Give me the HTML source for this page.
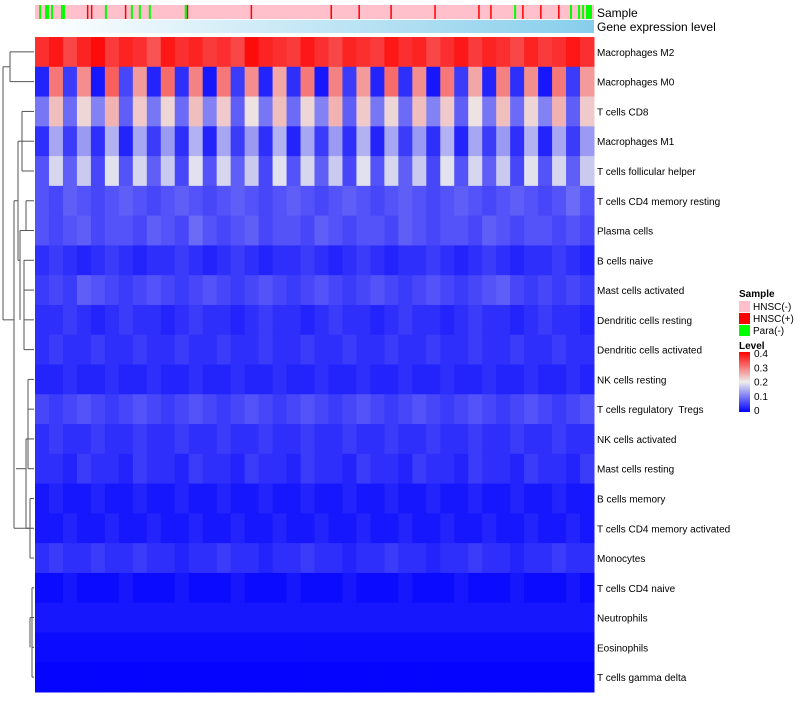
<!DOCTYPE html>
<html><head><meta charset="utf-8"><style>
body{margin:0;background:#fff;font-family:"Liberation Sans",sans-serif;}
svg text{font-family:"Liberation Sans",sans-serif;white-space:pre;}
</style></head><body>
<svg id="c" width="800" height="700" xmlns="http://www.w3.org/2000/svg">
<defs>
<linearGradient id="gexp" x1="0" x2="1"><stop offset="0" stop-color="#ffffff"/><stop offset="1" stop-color="#87ceeb"/></linearGradient>
<linearGradient id="lvl" x1="0" x2="0" y1="1" y2="0"><stop offset="0" stop-color="#0000ff"/><stop offset="0.5" stop-color="#eeeeee"/><stop offset="1" stop-color="#ff0000"/></linearGradient>
</defs>
<g id="dend"></g>
<g id="ann"></g>
<g id="hm"></g>
<g id="labels"></g>
<text x="597" y="17" font-size="12">Sample</text>
<text x="597" y="31" font-size="12">Gene expression level</text>
<g>
<text x="739" y="297" font-size="10" font-weight="bold">Sample</text>
<rect x="739" y="301" width="11" height="11" fill="#ffc0cb"/>
<text x="753" y="310" font-size="10">HNSC(-)</text>
<rect x="739" y="313" width="11" height="11" fill="#ff0000"/>
<text x="753" y="322" font-size="10">HNSC(+)</text>
<rect x="739" y="325" width="11" height="11" fill="#00ff00"/>
<text x="753" y="334" font-size="10">Para(-)</text>
<text x="739" y="349" font-size="10" font-weight="bold">Level</text>
<rect x="739" y="352" width="11" height="60" fill="url(#lvl)"/>
<g id="lvlticks"></g>
</g>
</svg>
<script>
const rowNames=["Macrophages M2","Macrophages M0","T cells CD8","Macrophages M1","T cells follicular helper","T cells CD4 memory resting","Plasma cells","B cells naive","Mast cells activated","Dendritic cells resting","Dendritic cells activated","NK cells resting","T cells regulatory  Tregs","NK cells activated","Mast cells resting","B cells memory","T cells CD4 memory activated","Monocytes","T cells CD4 naive","Neutrophils","Eosinophils","T cells gamma delta"];
const r0=[.36,.38,.34,.37,.39,.35,.37,.36,.33,.38,.36,.37,.35,.36,.34,.39,.37,.36,.35,.38,.36,.34,.37,.36,.35,.38,.36,.37,.34,.36,.38,.35,.37,.36,.34,.37,.35,.36,.38,.36];
const r1=[.03,.30,.05,.28,.02,.32,.06,.27,.03,.31,.04,.29,.02,.30,.05,.28,.03,.26,.04,.30,.02,.29,.05,.27,.03,.31,.04,.28,.02,.30,.05,.26,.03,.29,.04,.28,.02,.30,.05,.27];
const r2=[.10,.24,.09,.22,.11,.25,.08,.23,.10,.22,.09,.24,.11,.23,.08,.21,.10,.24,.09,.22,.11,.25,.08,.23,.10,.22,.09,.24,.11,.23,.08,.21,.10,.24,.09,.22,.11,.25,.08,.23];
const r3=[.04,.14,.05,.13,.04,.15,.03,.14,.05,.13,.04,.15,.03,.14,.05,.13,.04,.15,.03,.14,.05,.13,.04,.15,.03,.14,.05,.13,.04,.15,.03,.14,.05,.13,.04,.15,.03,.14,.05,.13];
const r4=[.07,.18,.08,.17,.06,.19,.07,.18,.08,.17,.06,.19,.07,.18,.08,.17,.06,.19,.07,.18,.08,.17,.06,.19,.07,.18,.08,.17,.06,.19,.07,.18,.08,.17,.06,.19,.07,.18,.08,.17];
const r5=[.07,.06,.08,.07,.06,.07,.08,.07,.06,.07,.08,.07,.06,.07,.08,.07,.06,.07,.08,.07,.06,.07,.08,.07,.06,.07,.08,.07,.06,.07,.08,.07,.06,.07,.08,.07,.06,.07,.09,.07];
const r6=[.07,.06,.07,.08,.06,.07,.07,.06,.08,.07,.06,.09,.07,.06,.07,.08,.06,.07,.07,.06,.08,.07,.06,.07,.07,.06,.08,.07,.06,.07,.07,.06,.08,.07,.06,.07,.07,.06,.07,.06];
const r7=[.04,.05,.04,.03,.04,.05,.04,.03,.04,.04,.05,.04,.03,.04,.05,.04,.03,.04,.04,.05,.04,.03,.04,.05,.04,.03,.04,.04,.05,.04,.03,.04,.05,.04,.03,.04,.04,.05,.04,.03];
const r8=[.05,.06,.05,.08,.07,.06,.05,.06,.07,.06,.05,.06,.07,.06,.05,.06,.07,.06,.05,.06,.07,.06,.05,.06,.07,.06,.05,.06,.07,.06,.05,.06,.07,.08,.06,.05,.06,.05,.06,.05];
const r9=[.04,.04,.05,.04,.03,.04,.05,.04,.04,.03,.04,.05,.04,.04,.03,.04,.05,.04,.04,.03,.04,.05,.04,.04,.03,.04,.05,.04,.04,.03,.04,.05,.04,.04,.03,.04,.05,.04,.04,.03];
const r10=[.04,.05,.04,.04,.05,.04,.04,.05,.04,.04,.05,.04,.04,.05,.04,.04,.05,.04,.04,.05,.04,.04,.05,.04,.04,.05,.04,.04,.05,.04,.04,.05,.04,.04,.05,.04,.04,.05,.04,.04];
const r11=[.03,.03,.04,.03,.03,.04,.03,.03,.04,.03,.03,.04,.03,.03,.04,.03,.03,.04,.03,.03,.04,.03,.03,.04,.03,.03,.04,.03,.03,.04,.03,.03,.04,.03,.03,.04,.03,.03,.04,.03];
const r12=[.06,.05,.06,.07,.06,.05,.06,.07,.06,.05,.06,.07,.06,.05,.06,.07,.06,.05,.06,.07,.06,.05,.06,.07,.06,.05,.06,.07,.06,.05,.06,.07,.06,.05,.06,.07,.06,.05,.06,.07];
const r13=[.04,.05,.04,.04,.05,.04,.04,.05,.04,.04,.05,.04,.04,.05,.04,.04,.05,.04,.04,.05,.04,.04,.05,.04,.04,.05,.04,.04,.05,.04,.04,.05,.04,.04,.05,.04,.04,.05,.04,.04];
const r14=[.04,.04,.03,.05,.04,.04,.03,.05,.04,.04,.03,.05,.04,.04,.03,.05,.04,.04,.03,.05,.04,.04,.03,.05,.04,.04,.03,.05,.04,.04,.03,.05,.04,.04,.03,.05,.04,.04,.03,.05];
const r15=[.02,.03,.02,.02,.03,.02,.02,.03,.02,.02,.03,.02,.02,.03,.02,.02,.03,.02,.02,.03,.02,.02,.03,.02,.02,.03,.02,.02,.03,.02,.02,.03,.02,.02,.03,.02,.02,.03,.02,.02];
const r16=[.02,.02,.03,.02,.02,.03,.02,.02,.03,.02,.02,.03,.02,.02,.03,.02,.02,.03,.02,.02,.03,.02,.02,.03,.02,.02,.03,.02,.02,.03,.02,.02,.03,.02,.02,.03,.02,.02,.03,.02];
const r17=[.04,.05,.04,.04,.05,.04,.04,.05,.04,.04,.03,.04,.04,.05,.04,.04,.03,.04,.04,.05,.04,.04,.03,.04,.04,.05,.04,.04,.03,.04,.04,.05,.04,.04,.03,.04,.04,.05,.04,.04];
const r18=[.01,.01,.02,.01,.01,.01,.02,.01,.01,.01,.02,.01,.01,.01,.02,.01,.01,.01,.02,.01,.01,.01,.02,.01,.01,.01,.02,.01,.01,.01,.02,.01,.01,.01,.02,.01,.01,.01,.02,.01];
const r19=[.02,.02,.02,.02,.02,.02,.02,.02,.02,.02,.02,.02,.02,.02,.02,.02,.02,.02,.02,.02,.02,.02,.02,.02,.02,.02,.02,.02,.02,.02,.02,.02,.02,.02,.02,.02,.02,.02,.02,.02];
const r20=[.01,.01,.01,.01,.01,.01,.01,.01,.01,.01,.01,.01,.01,.01,.01,.01,.01,.01,.01,.01,.01,.01,.01,.01,.01,.01,.01,.01,.01,.01,.01,.01,.01,.01,.01,.01,.01,.01,.01,.01];
const r21=[.005,.005,.005,.005,.005,.005,.005,.005,.005,.005,.005,.005,.005,.005,.005,.005,.005,.005,.005,.005,.005,.005,.005,.005,.005,.005,.005,.005,.005,.005,.005,.005,.005,.005,.005,.005,.005,.005,.005,.005];
const rowValues=[r0,r1,r2,r3,r4,r5,r6,r7,r8,r9,r10,r11,r12,r13,r14,r15,r16,r17,r18,r19,r20,r21];
const nSamples=280;
const hnscPosSamples=[26,28,45,76,108,148,162,178,200,222,228,244,253,262,268];
const paraSamples=[2,5,6,8,13,14,35,48,52,57,75,240,268,272,274,276,277,278];
const levelTicks=[0,0.1,0.2,0.3,0.4];

const NS="http://www.w3.org/2000/svg";
const X0=35,X1=594,Y0=37,Y1=692;
const rowH=(Y1-Y0)/rowNames.length;
function yRow(i){return Y0+i*rowH;}
function xCol(j,n){return X0+j*(X1-X0)/n;}
function col(v){
  const t=Math.max(0,Math.min(1,v/0.4));
  let r,g,b;
  if(t<0.5){const u=t/0.5;r=238*u;g=238*u;b=255-17*u;}
  else{const u=(t-0.5)/0.5;r=238+17*u;g=238*(1-u);b=238*(1-u);}
  return `rgb(${r|0},${g|0},${b|0})`;
}
function mk(tag,attrs,parent){const e=document.createElementNS(NS,tag);for(const k in attrs)e.setAttribute(k,attrs[k]);parent.appendChild(e);return e;}
const hm=document.getElementById('hm');
rowValues.forEach((vals,i)=>{
  vals.forEach((v,j)=>{
    const r=mk('rect',{x:xCol(j,vals.length),y:yRow(i),width:(X1-X0)/vals.length+0.5,height:rowH+0.5,fill:col(v)},hm);
    
    
  });
});
const labels=document.getElementById('labels');
rowNames.forEach((n,i)=>{
  const t=mk('text',{x:597,y:yRow(i)+rowH/2+4,'font-size':10},labels);
  t.textContent=n;
  
  
});
const ann=document.getElementById('ann');
const sb=mk('rect',{x:X0,y:5,width:X1-X0,height:14,fill:'#ffc0cb'},ann);


hnscPosSamples.forEach(s=>{
  const r=mk('rect',{x:xCol(s,nSamples),y:5,width:1.5,height:14,fill:'#ff0000'},ann);
  
  
});
paraSamples.forEach(s=>{
  const r=mk('rect',{x:xCol(s,nSamples),y:5,width:2,height:14,fill:'#00ff00'},ann);
  
  
});
const gb=mk('rect',{x:X0,y:20,width:X1-X0,height:13,fill:'url(#gexp)'},ann);


const lt=document.getElementById('lvlticks');
levelTicks.forEach(v=>{
  const y=412-v/0.4*57-2;
  const t=mk('text',{x:754,y:y+4,'font-size':10},lt);
  t.textContent=String(v);
  
  
});
const d=document.getElementById('dend');
function yc(i){return yRow(i)+rowH/2;}
const segs=[
 [10,yc(0),34,yc(0)],[10,yc(1),34,yc(1)],[10,yc(0),10,yc(1)],
 [5,(yc(0)+yc(1))/2,10,(yc(0)+yc(1))/2],
 [22,yc(2),34,yc(2)],[22,yc(3),34,yc(3)],[22,yc(2),22,yc(4)],[22,yc(4),34,yc(4)],
 [18,yc(3),22,yc(3)],[18,yc(3),18,yc(7)],
 [26,yc(5),34,yc(5)],[26,yc(6),34,yc(6)],[26,yc(5),26,yc(6)],
 [24,yc(7),34,yc(7)],[24,yc(7),24,yc(10)],[24,yc(8),34,yc(8)],[24,yc(9),34,yc(9)],[24,yc(10),34,yc(10)],
 [20,yc(6),26,yc(6)],[20,yc(6),20,yc(9)],[18,yc(7),20,yc(7)],
 [14,yc(5),18,yc(5)],[14,yc(5),14,yc(16)],
 [28,yc(11),34,yc(11)],[28,yc(12),34,yc(12)],[28,yc(11),28,yc(14)],[28,yc(13),34,yc(13)],[28,yc(14),34,yc(14)],
 [30,yc(15),34,yc(15)],[30,yc(16),34,yc(16)],[30,yc(15),30,yc(17)],[30,yc(17),34,yc(17)],
 [26,yc(13),28,yc(13)],[26,yc(13),26,yc(16)],[26,yc(16),30,yc(16)],[16,yc(14),26,yc(14)],
 [32,yc(18),34,yc(18)],[32,yc(19),34,yc(19)],[32,yc(18),32,yc(21)],[32,yc(20),34,yc(20)],[32,yc(21),34,yc(21)],
 [30,yc(19),32,yc(19)],[30,yc(19),30,yc(20)],[14,yc(16),30,yc(16)],
 [3,(yc(0)+yc(1))/2,5,(yc(0)+yc(1))/2],[3,(yc(0)+yc(1))/2,3,yc(9)],[3,yc(9),14,yc(9)]
];
segs.forEach(s=>{
  const l=mk('line',{x1:s[0],y1:s[1],x2:s[2],y2:s[3],stroke:'#555','stroke-width':1},d);
  
  
});
</script>
</body></html>
